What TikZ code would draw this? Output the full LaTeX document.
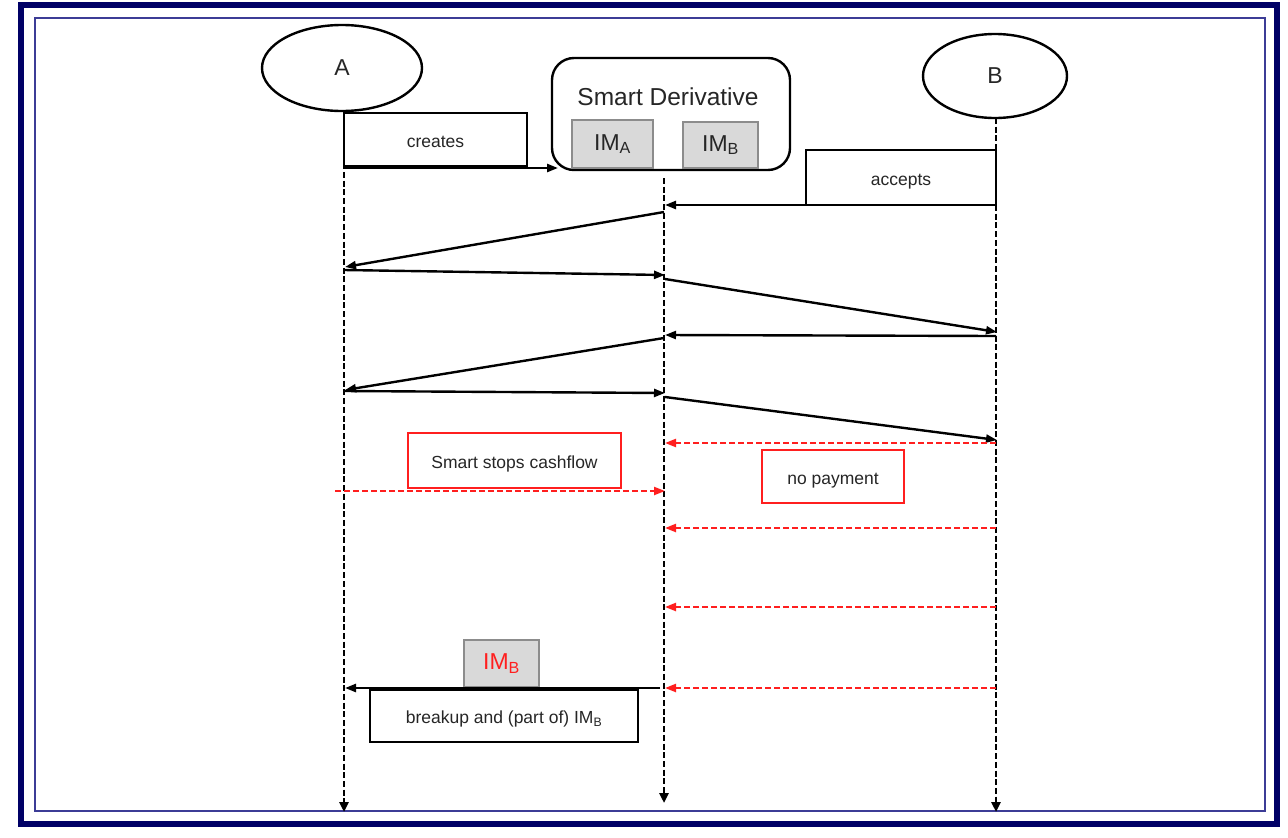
\documentclass[tikz,border=0pt]{standalone}
\usepackage{fontspec}
\setmainfont{Liberation Sans}
\usetikzlibrary{arrows.meta,shapes.geometric}
\definecolor{navy}{HTML}{000066}
\definecolor{frameblue}{HTML}{3C3C96}
\definecolor{imgray}{HTML}{D9D9D9}
\definecolor{imborder}{HTML}{8C8C8C}
\definecolor{sred}{HTML}{FF1F1F}
\definecolor{txt}{HTML}{262626}
\begin{document}
\begin{tikzpicture}[x=1pt,y=-1pt,
  msg/.style={line width=2.4pt,-{Triangle[length=11pt,width=8pt]}},
  redmsg/.style={line width=2.2pt,sred,dash pattern=on 6pt off 3pt,-{Triangle[length=11pt,width=8pt]}},
  life/.style={line width=2.6pt,dash pattern=on 6pt off 2.7pt,-{Triangle[length=10pt,width=9pt]}},
  lblbox/.style={draw,line width=2.4pt,inner sep=0pt,text=txt,text height=18pt,text depth=3pt,font=\fontsize{17.5}{20}\selectfont},
  redbox/.style={lblbox,draw=sred,line width=2.6pt},
  imbox/.style={draw=imborder,fill=imgray,line width=1.2pt,inner sep=0pt,font=\fontsize{23}{25}\selectfont},
  actor/.style={draw,ellipse,line width=2.4pt,inner sep=0pt,text=txt,font=\fontsize{23}{25}\selectfont}
]
\useasboundingbox (0,0) rectangle (1288,838);
\fill[white] (0,0) rectangle (1288,838);
% frames
\draw[navy,line width=6pt] (21,5) rectangle (1277,824);
\draw[frameblue,line width=1.6pt] (35,18) rectangle (1265,811);

% actors
\node[actor,minimum width=160pt,minimum height=86pt] (A) at (342,68) {A};
\node[actor,minimum width=144pt,minimum height=84pt] (B) at (995,76) {B};

% smart derivative
\node[draw,line width=2.4pt,rounded corners=22pt,minimum width=238pt,minimum height=112pt] (SD) at (671,114) {};
\node[text=txt,font=\fontsize{24.5}{27}\selectfont] (SDt) at (668,97) {Smart Derivative};
\node[imbox,minimum width=81pt,minimum height=48pt,text=txt] (IMA) at (612.5,144) {IM\textsubscript{A}};
\node[imbox,minimum width=75pt,minimum height=46pt,text=txt] (IMB) at (720.5,145) {IM\textsubscript{B}};

% label boxes
\node[lblbox,minimum width=183pt,minimum height=53pt] (creates) at (435.5,139.5) {creates};
\node[lblbox,minimum width=190pt,minimum height=55pt] (accepts) at (901,177.5) {accepts};
\node[redbox,minimum width=213pt,minimum height=55pt] (stops) at (514.5,460.5) {Smart stops cashflow};
\node[redbox,minimum width=142pt,minimum height=53pt] (nopay) at (833,476.5) {no payment};
\node[imbox,minimum width=75pt,minimum height=47pt,text=sred] (IMBr) at (501.5,663.5) {IM\textsubscript{B}};
\node[lblbox,minimum width=268pt,minimum height=52pt] (breakup) at (504,716) {breakup and (part of) IM\textsubscript{B}};

% lifeline coordinates
\coordinate (la0) at (344,111);  \coordinate (la1) at (344,812);
\coordinate (ls0) at (664,178);  \coordinate (ls1) at (664,803);
\coordinate (lb0) at (996,118);  \coordinate (lb1) at (996,812);
\draw[life] (la0) -- (la1);
\draw[life] (ls0) -- (ls1);
\draw[life] (lb0) -- (lb1);

% message coordinates
\coordinate (c0a) at (344,168); \coordinate (c0b) at (558,168);
\coordinate (c1a) at (996,205); \coordinate (c1b) at (665,205);
\coordinate (c2a) at (664,212); \coordinate (c2b) at (345,267);
\coordinate (c3a) at (344,270); \coordinate (c3b) at (665,275);
\coordinate (c4a) at (665,279); \coordinate (c4b) at (997,332);
\coordinate (c5a) at (996,336); \coordinate (c5b) at (665,335);
\coordinate (c6a) at (664,338); \coordinate (c6b) at (345,390);
\coordinate (c7a) at (344,391); \coordinate (c7b) at (665,393);
\coordinate (c8a) at (665,397); \coordinate (c8b) at (997,440);
\coordinate (r1a) at (996,443); \coordinate (r1b) at (665,443);
\coordinate (r2a) at (335,491); \coordinate (r2b) at (665,491);
\coordinate (r3a) at (996,528); \coordinate (r3b) at (665,528);
\coordinate (r4a) at (996,607); \coordinate (r4b) at (665,607);
\coordinate (r5a) at (996,688); \coordinate (r5b) at (665,688);
\coordinate (c9a) at (660,688); \coordinate (c9b) at (345,688);

\draw[msg] (c0a) -- (c0b);
\draw[msg] (c1a) -- (c1b);
\draw[msg] (c2a) -- (c2b);
\draw[msg] (c3a) -- (c3b);
\draw[msg] (c4a) -- (c4b);
\draw[msg] (c5a) -- (c5b);
\draw[msg] (c6a) -- (c6b);
\draw[msg] (c7a) -- (c7b);
\draw[msg] (c8a) -- (c8b);
\draw[redmsg] (r1a) -- (r1b);
\draw[redmsg] (r2a) -- (r2b);
\draw[redmsg] (r3a) -- (r3b);
\draw[redmsg] (r4a) -- (r4b);
\draw[redmsg] (r5a) -- (r5b);
\draw[msg] (c9a) -- (c9b);
\end{tikzpicture}
\end{document}
